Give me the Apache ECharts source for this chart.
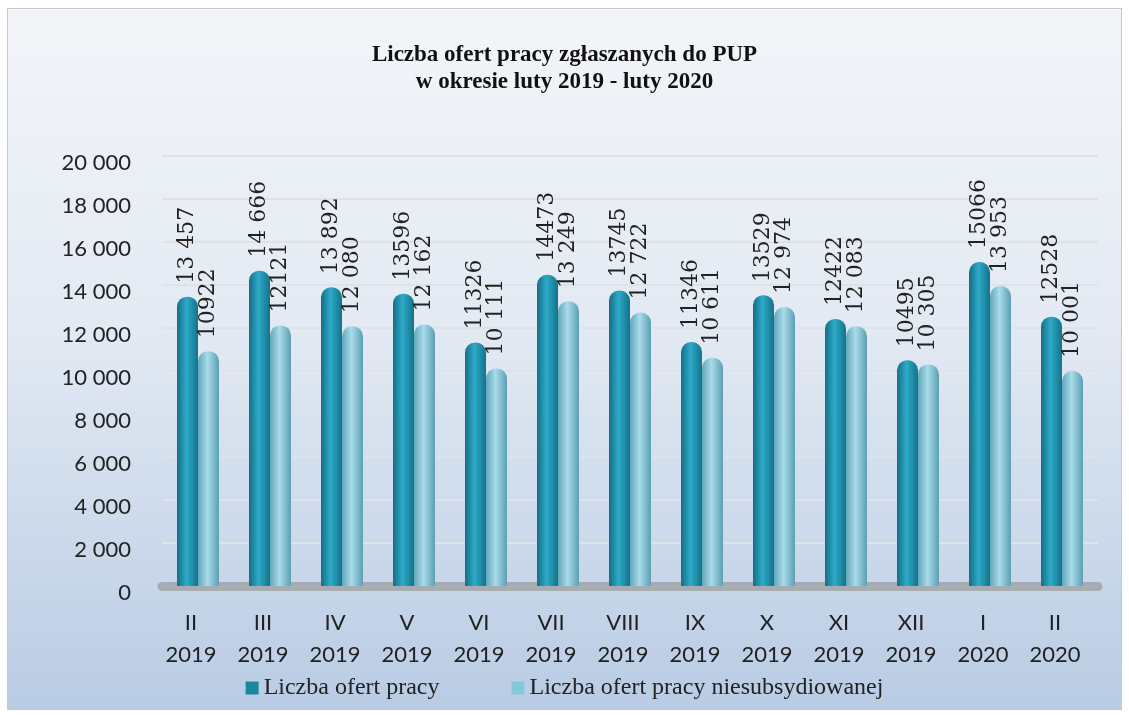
<!DOCTYPE html>
<html>
<head>
<meta charset="utf-8">
<script src="https://cdn.jsdelivr.net/npm/echarts@6/dist/echarts.min.js"></script>
<style>
  html, body { margin: 0; padding: 0; background: #fff; }
  .frame {
    position: absolute; left: 7px; top: 8px; width: 1113px; height: 700px;
    border: 1px solid #c6c9ce;
    background: linear-gradient(#f3f5f9 0%, #e3eaf3 45%, #b9cce4 100%);
  }
  #chart { position: absolute; left: 0; top: 0; width: 1129px; height: 717px; }
</style>
</head>
<body>
<div class="frame"></div>
<div id="chart"></div>
<script>
// miesiące
const months = ['II', 'III', 'IV', 'V', 'VI', 'VII', 'VIII', 'IX', 'X', 'XI', 'XII', 'I', 'II'];
const years = ['2019', '2019', '2019', '2019', '2019', '2019', '2019', '2019', '2019', '2019', '2019', '2020', '2020'];
// liczba ofert pracy
const oferty = [13457, 14666, 13892, 13596, 11326, 14473, 13745, 11346, 13529, 12422, 10495, 15066, 12528];
const ofertyLabels = ['13 457', '14 666', '13 892', '13596', '11326', '14473', '13745', '11346', '13529', '12422', '10495', '15066', '12528'];
// liczba ofert pracy niesubsydiowanej
const niesub = [10922, 12121, 12080, 12162, 10111, 13249, 12722, 10611, 12974, 12083, 10305, 13953, 10001];
const niesubLabels = ['10922', '12121', '12 080', '12 162', '10 111', '13 249', '12 722', '10 611', '12 974', '12 083', '10 305', '13 953', '10 001'];
const yTicks = [0, 2000, 4000, 6000, 8000, 10000, 12000, 14000, 16000, 18000, 20000];

const categories = months.map((m, i) => m + '\n' + years[i]);

function cylinder(c1, c2, c3) {
  return new echarts.graphic.LinearGradient(0, 0, 1, 0, [
    { offset: 0, color: c1 },
    { offset: 0.45, color: c2 },
    { offset: 1, color: c3 }
  ]);
}

function valueLabel(texts) {
  return {
    show: true,
    position: 'top',
    rotate: 90,
    align: 'left',
    verticalAlign: 'middle',
    distance: 13,
    fontFamily: 'DejaVu Serif',
    fontSize: 22,
    color: '#222',
    formatter: p => texts[p.dataIndex]
  };
}

const chart = echarts.init(document.getElementById('chart'));
const option = {
  backgroundColor: 'transparent',
  title: {
    text: 'Liczba ofert pracy zgłaszanych do PUP\nw okresie luty 2019 - luty 2020',
    left: 'center',
    top: 37,
    textStyle: {
      fontFamily: 'Liberation Serif',
      fontWeight: 'bold',
      fontSize: 23,
      lineHeight: 27,
      color: '#111'
    }
  },
  legend: {
    bottom: 12,
    left: 'center',
    itemWidth: 13,
    itemHeight: 13,
    itemGap: 72,
    textStyle: { fontFamily: 'Liberation Serif', fontSize: 24, color: '#222' },
    data: [
      { name: 'Liczba ofert pracy', icon: 'rect', itemStyle: { color: '#1b86a2' } },
      { name: 'Liczba ofert pracy niesubsydiowanej', icon: 'rect', itemStyle: { color: '#86c8d8' } }
    ]
  },
  grid: { left: 162, right: 31, top: 156, bottom: 131 },
  xAxis: {
    type: 'category',
    data: categories,
    axisLine: { show: true, lineStyle: { color: '#a7acb2', width: 9 } },
    axisTick: { show: false },
    axisLabel: {
      fontFamily: 'Lato',
      fontSize: 22,
      lineHeight: 32,
      color: '#222',
      margin: 21,
      padding: [0, 14, 0, 0]
    }
  },
  yAxis: {
    type: 'value',
    min: 0,
    max: 20000,
    interval: 2000,
    axisLine: { show: false },
    axisTick: { show: false },
    splitLine: { lineStyle: { color: '#dfe3e8', width: 2 } },
    axisLabel: {
      fontFamily: 'Lato',
      fontSize: 22,
      color: '#222',
      margin: 31,
      verticalAlign: 'top',
      lineHeight: 13,
      formatter: v => yTicks.includes(v) ? String(v).replace(/\B(?=(\d{3})+(?!\d))/g, ' ') : ''
    }
  },
  series: [
    {
      name: 'Liczba ofert pracy',
      type: 'bar',
      data: oferty,
      barWidth: 21,
      barGap: '0%',
      itemStyle: {
        color: cylinder('#146f87', '#2eaac6', '#14728b'),
        borderRadius: [10, 10, 0, 0]
      },
      label: valueLabel(ofertyLabels)
    },
    {
      name: 'Liczba ofert pracy niesubsydiowanej',
      type: 'bar',
      data: niesub,
      barWidth: 21,
      itemStyle: {
        color: cylinder('#5fa7bb', '#a9dcea', '#5b9fb2'),
        borderRadius: [10, 10, 0, 0]
      },
      label: valueLabel(niesubLabels)
    }
  ]
};
chart.setOption(option);
</script>
</body>
</html>
